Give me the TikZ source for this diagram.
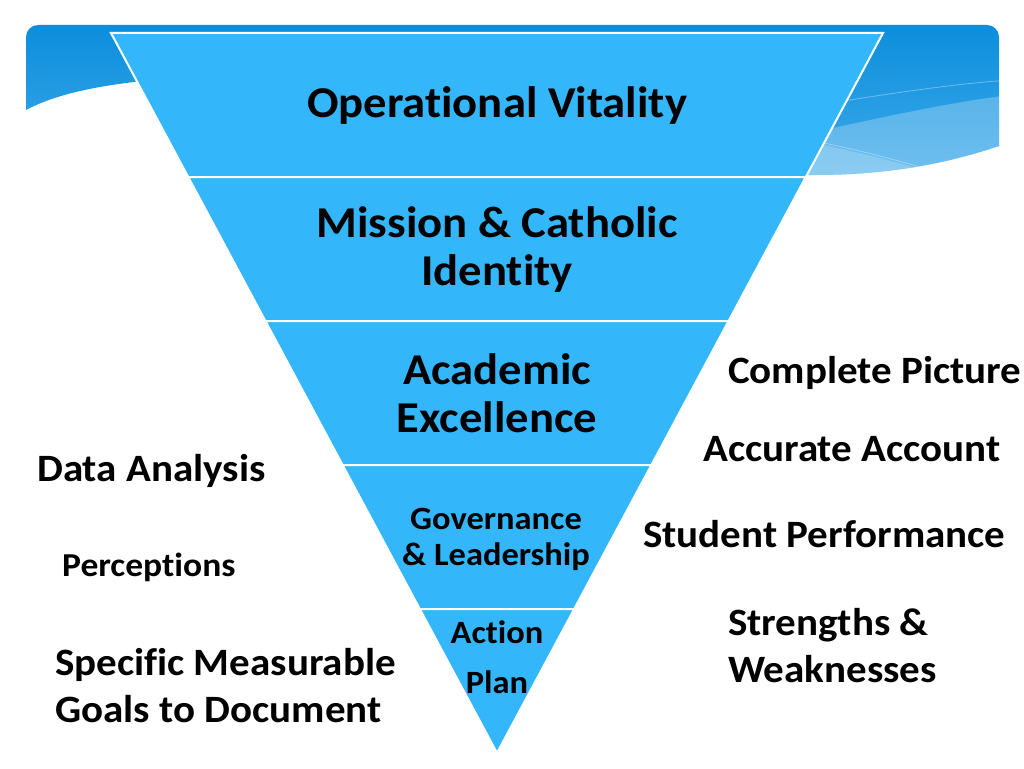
\documentclass[tikz,border=0pt]{standalone}
\usepackage{fontspec}
\setmainfont{Carlito}[Ligatures={NoCommon}, FakeStretch=1.06]
\definecolor{tri}{RGB}{51,182,250}
\definecolor{btop}{RGB}{12,142,220}
\definecolor{bbot}{RGB}{62,170,234}
\tikzset{
  layer/.style={fill=tri, draw=white, line width=2pt, line join=miter},
  big/.style={font=\fontsize{44}{48}\selectfont\bfseries, align=center, inner sep=0pt},
  mid/.style={font=\fontsize{32.5}{36}\selectfont\bfseries, align=center, inner sep=0pt},
  side/.style={font=\fontsize{38.7}{47}\selectfont\bfseries, align=left, inner sep=0pt, anchor=west},
  sidesm/.style={font=\fontsize{33.5}{36}\selectfont\bfseries, align=left, inner sep=0pt, anchor=west},
}
\begin{document}
\begin{tikzpicture}[x=1pt,y=-1pt]
\useasboundingbox (0,0) rectangle (1024,768);
\fill[white] (0,0) rectangle (1024,768);
% banner
\def\bannerpath{(26,110) [rounded corners=12pt] -- (26,25) -- (999,25) [sharp corners] -- (999,146) .. controls (940,166) and (880,175) .. (815,175) -- (500,175) -- (200,76) .. controls (110,82) and (60,92) .. (26,110) -- cycle}
\shade[top color=btop, bottom color=bbot] \bannerpath;
\begin{scope}
\clip \bannerpath;
\fill[white, opacity=0.25] (800,135) .. controls (880,118) and (950,102) .. (1010,95) -- (1010,190) -- (800,190) -- cycle;
\fill[white, opacity=0.2] (800,140) .. controls (850,150) and (890,160) .. (930,172) -- (800,190) -- cycle;
\draw[white, opacity=0.35, line width=0.8pt] (800,108) .. controls (880,95) and (950,84) .. (1010,80);
\draw[white, opacity=0.35, line width=0.8pt] (800,138) .. controls (850,148) and (890,158) .. (930,170);
\end{scope}
% layers
\path[layer] (111,33) -- (883,33) -- (805.8,177) -- (188.2,177) -- cycle;
\path[layer] (188.2,177) -- (805.8,177) -- (728.6,321) -- (265.4,321) -- cycle;
\path[layer] (265.4,321) -- (728.6,321) -- (651.4,465) -- (342.6,465) -- cycle;
\path[layer] (342.6,465) -- (651.4,465) -- (574.2,609) -- (419.8,609) -- cycle;
\path[layer] (419.8,609) -- (574.2,609) -- (497,753) -- cycle;
% layer texts
\node[big] (ov) at (497,106) {Operational Vitality};
\node[big] (mc) at (497,250) {Mission \& Catholic\\Identity};
\node[big] (ae) at (497,393) {Academic\\Excellence};
\node[mid] (gl) at (496,539) {Governance\\\& Leadership};
\node[mid, font=\fontsize{32.5}{50}\selectfont\bfseries] (ap) at (497,657) {Action\\Plan};
% right texts
\node[side] (cp) at (728,373) {Complete Picture};
\node[side] (aa) at (703,449) {Accurate Account};
\node[side] (sp) at (643,534) {Student Performance};
\node[side] (sw) at (728,646) {Strengths \&\\Weaknesses};
% left texts
\node[side] (da) at (37,471) {Data Analysis};
\node[sidesm] (pe) at (62,567) {Perceptions};
\node[side] (sm) at (55,686) {Specific Measurable\\Goals to Document};
\end{tikzpicture}
\end{document}
